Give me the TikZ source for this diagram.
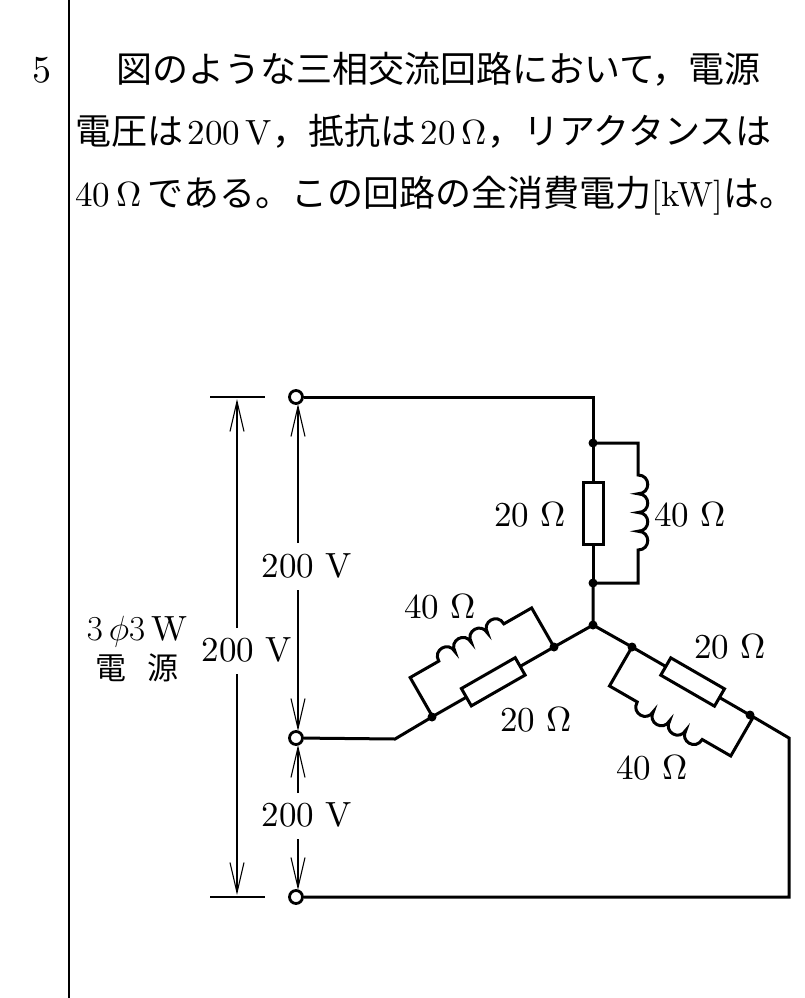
\RequirePackage{fix-cm}
\documentclass[tikz,border=0pt]{standalone}
\usepackage{fontspec}
\setmainfont{lmroman10-regular.otf}
\newfontfamily\latfont{lmroman10-regular.otf}
\newfontfamily\cjk{Noto Sans CJK JP}
\usetikzlibrary{arrows.meta}
\newcommand{\lat}{\fontsize{35}{40}\latfont}
\newcommand{\jp}{\fontsize{36}{40}\cjk}
\tikzset{
  wire/.style={line width=3pt},
  dim/.style={line width=1.1pt},
  dimarrow/.style={dim,-{Straight Barb[length=30pt,width=14pt,line width=1.1pt]}},
  dot/.style={circle,fill=black,inner sep=0pt,minimum size=9pt},
  term/.style={circle,draw=black,line width=2.8pt,fill=white,inner sep=0pt,minimum size=13pt},
  lbl/.style={font=\lat,inner sep=0pt},
  txt/.style={font=\jp,inner sep=0pt,anchor=base west},
  ltx/.style={font=\lat,inner sep=0pt,anchor=base west},
}
\newcommand{\mybranch}{%
  \draw[wire] (0,0) -- (140,0);
  \draw[wire,fill=white] (39,-10) rectangle (101,10);
  \draw[wire] (0,0) -- (0,45) -- (32,45)
    .. controls (32,58) and (50.75,58) .. (50.75,45)
    .. controls (50.75,58) and (69.5,58) .. (69.5,45)
    .. controls (69.5,58) and (88.25,58) .. (88.25,45)
    .. controls (88.25,58) and (107,58) .. (107,45)
    -- (140,45) -- (140,0);
}
\begin{document}
\begin{tikzpicture}[x=1pt,y=-1pt]
\useasboundingbox (0,0) rectangle (805,998);
\draw[line width=1.5pt] (69,0) -- (69,998);
\node[inner sep=0pt,anchor=base,font=\fontsize{38}{44}\latfont] (num) at (42,82) {5};
\node[txt] (l1) at (116,82) {図のような三相交流回路において，電源};
\node[txt] (l2a) at (75,144) {電圧は};
\node[ltx] (l2b) at ([xshift=4pt]l2a.base east) {200\,V};
\node[txt] (l2c) at (l2b.base east) {，抵抗は};
\node[ltx] (l2d) at ([xshift=4pt]l2c.base east) {20\,Ω};
\node[txt] (l2e) at (l2d.base east) {，リアクタンスは};
\node[ltx] (l3a) at (75,206) {40\,Ω};
\node[txt] (l3b) at ([xshift=6pt]l3a.base east) {である。この回路の全消費電力};
\node[ltx] (l3c) at (l3b.base east) {[kW]};
\node[txt] (l3d) at (l3c.base east) {は。};

\coordinate (C) at (593,625);
\coordinate (T1) at (593,443);
\coordinate (T2) at (593,583);
\coordinate (L1) at (554,647);
\coordinate (L2) at (432,717);
\coordinate (R1) at (632,647);
\coordinate (R2) at (750,715);
\coordinate (LK) at (395,739);
\coordinate (RK) at (789,738);
\coordinate (RB) at (789,897);
\coordinate (TT) at (593,397);

\begin{scope}[shift={(T1)},rotate=-90,yscale=-1]\mybranch\end{scope}
\begin{scope}[shift={(L1)},rotate=209.8]\mybranch\end{scope}
\begin{scope}[shift={(R1)},rotate=330]\mybranch\end{scope}

\node[term] (a) at (296,397) {};
\node[term] (b) at (296,738) {};
\node[term] (c) at (296,897) {};

\draw[wire] (a) -- (TT) -- (T1);
\draw[wire] (T2) -- (C) -- (L1);
\draw[wire] (L2) -- (LK) -- (b);
\draw[wire] (C) -- (R1);
\draw[wire] (R2) -- (RK) -- (RB) -- (c);

\foreach \p in {T1,T2,C,L1,L2,R1,R2} \node[dot] at (\p) {};

\node[lbl] at (530,515) {20\ Ω};
\node[lbl] at (690,515) {40\ Ω};
\node[lbl] at (440,607) {40\ Ω};
\node[lbl] at (536,720) {20\ Ω};
\node[lbl] at (730,647) {20\ Ω};
\node[lbl] at (652,768) {40\ Ω};

\coordinate (d1a) at (210,397); \coordinate (d1b) at (265,397);
\coordinate (d2a) at (210,897); \coordinate (d2b) at (265,897);
\draw[dim] (d1a) -- (d1b);
\draw[dim] (d2a) -- (d2b);
\node[lbl] (vL) at (247,650) {200\ V};
\draw[dimarrow] (237,628) -- (237,399);
\draw[dimarrow] (237,674) -- (237,895);
\node[lbl] (v1) at (307,566) {200\ V};
\node[lbl] (v2) at (307,815) {200\ V};
\draw[dimarrow] (298,543) -- (298,404);
\draw[dimarrow] (298,590) -- (298,731);
\draw[dimarrow] (298,793) -- (298,745);
\draw[dimarrow] (298,839) -- (298,890);
\node[lbl] (src1) at (137,632) {$3\,\phi 3$\,W};
\node[lbl] (src2) at (137,668) {\fontsize{31}{36}\cjk 電\hspace{0.7em}源};
\end{tikzpicture}
\end{document}
